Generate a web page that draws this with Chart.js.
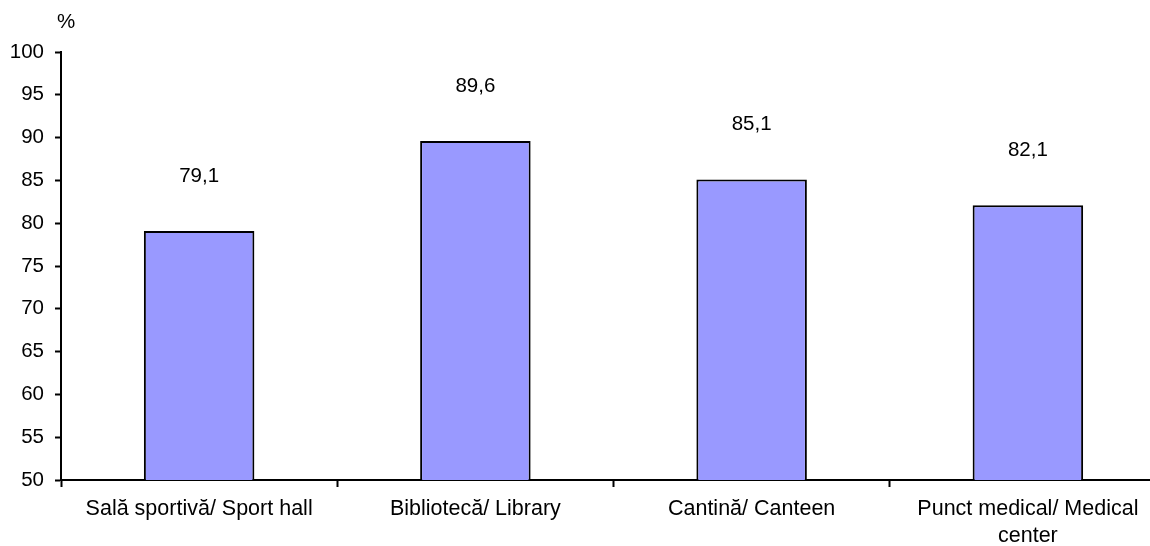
<!DOCTYPE html>
<html>
<head>
<meta charset="utf-8">
<script src="https://cdn.jsdelivr.net/npm/chart.js@4"></script>
<style>
  html, body { margin: 0; padding: 0; background: #fff; overflow: hidden; }
  #wrap { width: 1166px; height: 546px; }
</style>
</head>
<body>
<div id="wrap"><canvas id="chart"></canvas></div>
<script>
// ===== Данные =====
const categories = [
    'Sală sportivă/ Sport hall',
    'Bibliotecă/ Library',
    'Cantină/ Canteen',
    ['Punct medical/ Medical', 'center']
];
const values = [79.1, 89.6, 85.1, 82.1];
const yMin = 50;
const yMax = 100;
const yStep = 5;
const unitLabel = '%';

const FONT = '"Liberation Sans", Arial, sans-serif';
const FSIZE = 20.5;

// Подписи значений над столбцами (десятичная запятая)
const valueLabels = {
    id: 'valueLabels',
    afterDatasetsDraw(chart) {
        const ctx = chart.ctx;
        const meta = chart.getDatasetMeta(0);
        ctx.save();
        ctx.font = FSIZE + 'px ' + FONT;
        ctx.fillStyle = '#000';
        ctx.textAlign = 'center';
        ctx.textBaseline = 'middle';
        meta.data.forEach((bar, i) => {
            ctx.fillText(values[i].toFixed(1).replace('.', ','), bar.x, bar.y - 55);
        });
        // Знак % над осью Y
        const y = chart.scales.y;
        ctx.textAlign = 'left';
        ctx.fillText(unitLabel, y.right - 4, y.top - 30);
        ctx.restore();
    }
};

const ctx = document.getElementById('chart').getContext('2d');
new Chart(ctx, {
    type: 'bar',
    data: {
        labels: categories,
        datasets: [{
            data: values,
            backgroundColor: '#9999FF',
            borderColor: '#000',
            borderWidth: 2,
            borderSkipped: 'bottom',
            barPercentage: 0.4,
            categoryPercentage: 1.0
        }]
    },
    options: {
        responsive: true,
        maintainAspectRatio: false,
        animation: false,
        layout: { padding: { top: 52, right: 0, bottom: 0, left: 0 } },
        plugins: {
            legend: { display: false },
            tooltip: { enabled: false }
        },
        scales: {
            x: {
                offset: true,
                afterFit(scale) { scale.height = 66; },
                grid: {
                    offset: true,
                    drawOnChartArea: false,
                    drawTicks: true,
                    tickLength: 7,
                    tickWidth: 2,
                    color: '#000'
                },
                border: { display: true, color: '#000', width: 2 },
                ticks: {
                    color: '#000',
                    font: { family: FONT, size: 21.5, lineHeight: 1.25 },
                    maxRotation: 0,
                    autoSkip: false,
                    padding: 9
                }
            },
            y: {
                min: yMin,
                max: yMax,
                afterFit(scale) { scale.width = 61; },
                grid: {
                    drawOnChartArea: false,
                    drawTicks: true,
                    tickLength: 6,
                    tickWidth: 2,
                    color: '#000'
                },
                border: { display: true, color: '#000', width: 2 },
                ticks: {
                    stepSize: yStep,
                    color: '#000',
                    font: { family: FONT, size: FSIZE },
                    padding: 11
                }
            }
        }
    },
    plugins: [valueLabels]
});
</script>
</body>
</html>
